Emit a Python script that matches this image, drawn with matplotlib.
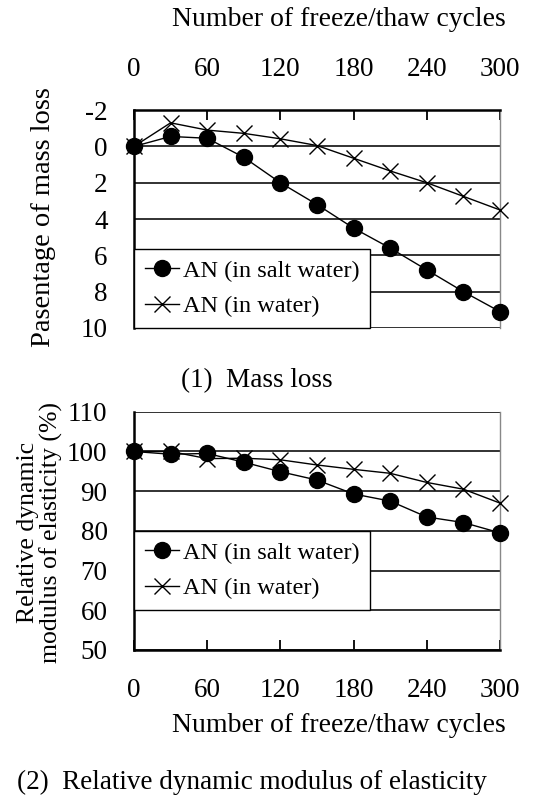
import matplotlib
matplotlib.use("Agg")
from matplotlib import pyplot as plt

cycles = [0, 30, 60, 90, 120, 150, 180, 210, 240, 270, 300]
mass_salt = [0, -0.55, -0.45, 0.6, 2.0, 3.2, 4.5, 5.6, 6.8, 8.0, 9.1]
mass_water = [0, -1.3, -0.9, -0.72, -0.42, -0.05, 0.65, 1.35, 2.0, 2.75, 3.5]
rdm_salt = [100, 99.3, 99.5, 97.3, 94.9, 92.8, 89.3, 87.5, 83.5, 82.1, 79.5]
rdm_water = [100, 100, 98.2, 98.3, 97.9, 96.6, 95.5, 94.5, 92.2, 90.5, 87.0]
xticks = [0, 60, 120, 180, 240, 300]
mass_ticks = [-2, 0, 2, 4, 6, 8, 10]
rdm_ticks = [50, 60, 70, 80, 90, 100, 110]

plt.rcParams['font.family'] = ['Liberation Serif', 'DejaVu Serif']
plt.rcParams['font.size'] = 19.5
plt.rcParams['axes.unicode_minus'] = False

fig = plt.figure(figsize=(5.53, 7.98), dpi=100, facecolor='w')


def style_axes(ax, yticks, xside):
    ax.set_xlim(0, 300)
    ax.set_xticks(xticks)
    ax.set_yticks(yticks)
    ax.grid(axis='y', color='#222222', linewidth=1.3)
    ax.set_axisbelow(True)
    for s in ['left', xside]:
        ax.spines[s].set_linewidth(1.8)
        ax.spines[s].set_color('black')
    other = 'bottom' if xside == 'top' else 'top'
    ax.spines[other].set_visible(False)
    ax.spines['right'].set_color('#888888')
    ax.spines['right'].set_linewidth(1.0)
    ax.tick_params(axis='y', length=0, pad=19)
    ax.tick_params(axis='x', direction='in', length=7, width=1.3, pad=20)


def add_legend(ax, y0):
    # legend box sits flush against the left spine
    leg = ax.legend(loc='lower left', bbox_to_anchor=(0, y0), borderaxespad=0,
                    frameon=True, fancybox=False, edgecolor='black',
                    handlelength=1.4, handletextpad=0.15, borderpad=0.45,
                    labelspacing=0.55, fontsize=17.5)
    leg.get_frame().set_linewidth(1.0)
    leg.get_frame().set_alpha(1)


# (1) mass loss
ax1 = fig.add_axes([0.2423, 0.589, 0.6618, 0.273])
ax1.plot(cycles, mass_salt, color='black', lw=1.0, marker='o', ms=11.5,
         label='AN (in salt water)', clip_on=False, zorder=4)
ax1.plot(cycles, mass_water, color='black', lw=1.0, marker='x', ms=11.5,
         mew=1.0, label='AN (in water)', clip_on=False, zorder=4)
ax1.set_ylim(10, -2)
style_axes(ax1, mass_ticks, 'top')
ax1.xaxis.tick_top()
add_legend(ax1, 0)
fig.text(0.612, 0.975, 'Number of freeze/thaw cycles', ha='center', va='center', fontsize=20)
fig.text(0.078, 0.728, 'Pasentage of mass loss', rotation=90, ha='center', va='center', fontsize=20.5)
fig.text(0.465, 0.523, '(1)  Mass loss', ha='center', va='center', fontsize=19.5)

# (2) relative dynamic modulus
ax2 = fig.add_axes([0.2423, 0.1855, 0.6618, 0.2985])
ax2.plot(cycles, rdm_salt, color='black', lw=1.0, marker='o', ms=11.5,
         label='AN (in salt water)', clip_on=False, zorder=4)
ax2.plot(cycles, rdm_water, color='black', lw=1.0, marker='x', ms=11.5,
         mew=1.0, label='AN (in water)', clip_on=False, zorder=4)
ax2.set_ylim(50, 110)
style_axes(ax2, rdm_ticks, 'bottom')
add_legend(ax2, 1 / 6)
fig.text(0.613, 0.091, 'Number of freeze/thaw cycles', ha='center', va='center', fontsize=20)
fig.text(0.072, 0.333, 'Relative dynamic\nmodulus of elasticity (%)', rotation=90,
         ha='center', va='center', fontsize=18.5, linespacing=1.0)
fig.text(0.455, 0.019, '(2)  Relative dynamic modulus of elasticity', ha='center', va='center',
         fontsize=19.5)

fig.savefig('out.png', dpi=100, facecolor='w')
